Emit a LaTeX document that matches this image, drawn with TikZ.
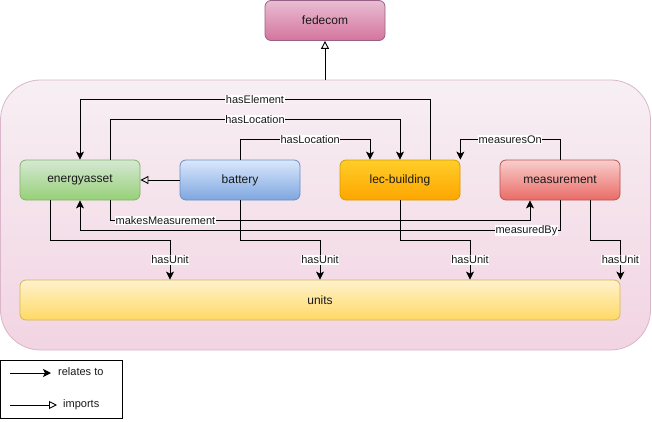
\documentclass[tikz,border=0pt]{standalone}
\usepackage{fontspec}
\setmainfont{Liberation Sans}
\usetikzlibrary{arrows.meta,calc}
\definecolor{contTop}{HTML}{F7EFF4}
\definecolor{contBot}{HTML}{F2D4E2}
\definecolor{contLine}{HTML}{D9B6CA}
\definecolor{fedTop}{HTML}{E8BDD2}
\definecolor{fedBot}{HTML}{D5749E}
\definecolor{fedLine}{HTML}{996185}
\definecolor{grTop}{HTML}{D5E8D4}
\definecolor{grBot}{HTML}{97D077}
\definecolor{grLine}{HTML}{82B366}
\definecolor{blTop}{HTML}{DAE8FC}
\definecolor{blBot}{HTML}{7EA6E0}
\definecolor{blLine}{HTML}{6C8EBF}
\definecolor{orTop}{HTML}{FFCD28}
\definecolor{orBot}{HTML}{FFA500}
\definecolor{orLine}{HTML}{D79B00}
\definecolor{rdTop}{HTML}{F8CECC}
\definecolor{rdBot}{HTML}{EA6B66}
\definecolor{rdLine}{HTML}{B85450}
\definecolor{yeTop}{HTML}{FFF2CC}
\definecolor{yeBot}{HTML}{FFD966}
\definecolor{yeLine}{HTML}{D6B656}
\tikzset{
  box/.style={rectangle, rounded corners=6pt, line width=0.8pt, minimum width=120pt, minimum height=40pt,
    inner sep=0pt, font=\fontsize{12}{14}\selectfont, text=black!90},
  rel/.style={line width=0.9pt, -{Stealth[length=8pt,width=8pt,inset=2pt]}},
  imp/.style={line width=0.9pt, -{Triangle[open,length=8pt,width=8pt]}},
  lbl/.style={fill=white, inner sep=0.6pt, font=\fontsize{11}{13}\selectfont, text=black!90},
}
\begin{document}
\begin{tikzpicture}[x=1pt,y=-1pt]
\useasboundingbox (0,0) rectangle (652,422);
% container
\node[rectangle, rounded corners=40pt, draw=contLine, line width=0.8pt, top color=contTop, bottom color=contBot,
  minimum width=650pt, minimum height=270pt, inner sep=0pt] (cont) at (325.5,215) {};
% fedecom
\node[box, draw=fedLine, top color=fedTop, bottom color=fedBot] (fed) at (325,20.5) {fedecom};
% nodes
\node[box, draw=grLine, top color=grTop, bottom color=grBot] (ea) at (80,180) {energyasset};
\node[box, draw=blLine, top color=blTop, bottom color=blBot] (bat) at (240,180) {battery};
\node[box, draw=orLine, top color=orTop, bottom color=orBot] (lec) at (400,180) {lec-building};
\node[box, draw=rdLine, top color=rdTop, bottom color=rdBot] (meas) at (560,180) {measurement};
\node[box, draw=yeLine, top color=yeTop, bottom color=yeBot, minimum width=600pt] (units) at (320,300) {units};
% imports
\draw[imp] (cont.north -| fed.south) -- (fed.south);
\draw[imp] (bat.west) -- (ea.east);
% relations
\draw[rel] ([xshift=30pt]lec.north) -- ++(0,-60) -| node[lbl,pos=0.25]{hasElement} (ea.north);
\draw[rel] ([xshift=30pt]ea.north) -- ++(0,-40) -| node[lbl,pos=0.25]{hasLocation} (lec.north);
\draw[rel] (bat.north) -- ++(0,-20) -| node[lbl,pos=0.27]{hasLocation} ([xshift=-30pt]lec.north);
\draw[rel] (meas.north) -- ++(0,-20) -| node[lbl,pos=0.25]{measuresOn} (lec.north east);
\draw[rel] ([xshift=30pt]ea.south) -- ++(0,20) -| node[lbl,pos=0.066]{makesMeasurement} ([xshift=-30pt]meas.south);
\draw[rel] (meas.south) -- ++(0,30) -| node[lbl,pos=0.035]{measuredBy} (ea.south);
\draw[rel] ([xshift=-30pt]ea.south) -- ++(0,40) -| node[lbl,pos=0.75]{hasUnit} ([xshift=-150pt]units.north);
\draw[rel] (bat.south) -- ++(0,40) -| node[lbl,pos=0.75]{hasUnit} (units.north);
\draw[rel] (lec.south) -- ++(0,40) -| node[lbl,pos=0.75]{hasUnit} ([xshift=150pt]units.north);
\draw[rel] ([xshift=30pt]meas.south) -- ++(0,40) -| node[lbl,pos=0.75]{hasUnit} (units.north east);
% legend
\node[rectangle, draw=black, line width=0.8pt, minimum width=122pt, minimum height=58pt, inner sep=0pt] (leg) at (61.5,389) {};
\coordinate (r1) at (10,373);
\coordinate (r2) at (51,373);
\coordinate (i1) at (10,405);
\coordinate (i2) at (57,405);
\draw[rel] (r1) -- (r2);
\draw[imp] (i1) -- (i2);
\node[anchor=west, inner sep=0pt, font=\fontsize{11}{13}\selectfont, text=black!90] (rt) at (58,372) {relates to};
\node[anchor=west, inner sep=0pt, font=\fontsize{11}{13}\selectfont, text=black!90] (im) at (63,405) {imports};
\end{tikzpicture}
\end{document}
